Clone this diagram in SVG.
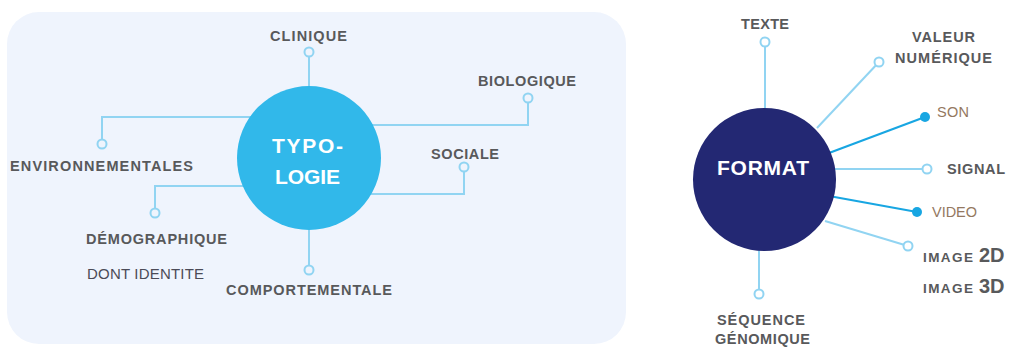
<svg xmlns="http://www.w3.org/2000/svg" width="1010" height="347" viewBox="0 0 1010 347">
<style>
.lbl{font-family:"Liberation Sans",Arial,sans-serif;font-weight:bold;font-size:14.5px;fill:#58595b;}
.reg{font-family:"Liberation Sans",Arial,sans-serif;font-size:15px;fill:#4b4b57;}
.col{font-family:"Liberation Sans",Arial,sans-serif;font-size:14.5px;fill:#94785f;}
.hub{font-family:"Liberation Sans",Arial,sans-serif;font-weight:bold;font-size:21px;fill:#ffffff;}
.big{font-size:20px;}
.lc{stroke:#91d4f2;stroke-width:2;fill:none;}
.dc{stroke:#18a6e2;stroke-width:2.2;fill:none;}
.od{stroke:#91d4f2;stroke-width:2;}
.fd{fill:#18a6e2;}
</style>
<rect x="7" y="12" width="619" height="332" rx="32" fill="#eff4fd"/>
<g id="connectors">
  <path class="lc" d="M309 90 V52"/>
  <path class="lc" d="M260 117 H102 V144"/>
  <path class="lc" d="M260 186 H155 V213"/>
  <path class="lc" d="M309 225 V270"/>
  <path class="lc" d="M360 125 H528 V98"/>
  <path class="lc" d="M360 194 H464 V167"/>
  <path class="lc" d="M765 110 V42"/>
  <path class="lc" d="M817 128 L879 62"/>
  <path class="dc" d="M829 153 L925 117"/>
  <path class="lc" d="M834 169 H927"/>
  <path class="dc" d="M829 196 L917 212"/>
  <path class="lc" d="M825 221 L908 246"/>
  <path class="lc" d="M759 250 V294"/>
  <circle class="od" cx="309" cy="52" r="4.5" fill="#eff4fd"/>
  <circle class="od" cx="102" cy="144" r="4.5" fill="#eff4fd"/>
  <circle class="od" cx="155" cy="213" r="4.5" fill="#eff4fd"/>
  <circle class="od" cx="309" cy="270" r="4.5" fill="#eff4fd"/>
  <circle class="od" cx="528" cy="98" r="4.5" fill="#eff4fd"/>
  <circle class="od" cx="464" cy="167" r="4.5" fill="#eff4fd"/>
  <circle class="od" cx="765" cy="42" r="4.5" fill="#ffffff"/>
  <circle class="od" cx="879" cy="62" r="4.5" fill="#ffffff"/>
  <circle class="fd" cx="925" cy="117" r="5"/>
  <circle class="od" cx="927" cy="169" r="4.5" fill="#ffffff"/>
  <circle class="fd" cx="917" cy="212" r="5"/>
  <circle class="od" cx="908" cy="246" r="4.5" fill="#ffffff"/>
  <circle class="od" cx="759" cy="294" r="4.5" fill="#ffffff"/>
</g>
<g id="typologie">
  <circle cx="309" cy="158" r="72" fill="#31b8ea"/>
  <text class="hub" x="272" y="153" textLength="71" lengthAdjust="spacing">TYPO-</text>
  <text class="hub" x="275" y="184" textLength="65" lengthAdjust="spacing">LOGIE</text>
</g>
<g id="format">
  <circle cx="764.5" cy="179.5" r="71.5" fill="#232873"/>
  <text class="hub" x="717" y="175" textLength="92" lengthAdjust="spacing">FORMAT</text>
</g>
<g id="clinique"><text class="lbl" x="270" y="41" textLength="77" lengthAdjust="spacing">CLINIQUE</text></g>
<g id="environnementales"><text class="lbl" x="10" y="171" textLength="183" lengthAdjust="spacing">ENVIRONNEMENTALES</text></g>
<g id="demographique">
  <text class="lbl" x="86" y="244" textLength="141" lengthAdjust="spacing">DÉMOGRAPHIQUE</text>
  <text class="reg" x="87" y="279" textLength="117" lengthAdjust="spacing">DONT IDENTITE</text>
</g>
<g id="comportementale"><text class="lbl" x="226" y="295" textLength="166" lengthAdjust="spacing">COMPORTEMENTALE</text></g>
<g id="biologique"><text class="lbl" x="478" y="86" textLength="98" lengthAdjust="spacing">BIOLOGIQUE</text></g>
<g id="sociale"><text class="lbl" x="431" y="159" textLength="68" lengthAdjust="spacing">SOCIALE</text></g>
<g id="texte"><text class="lbl" x="741" y="29" textLength="48" lengthAdjust="spacing">TEXTE</text></g>
<g id="valeur">
  <text class="lbl" x="912" y="42" textLength="63" lengthAdjust="spacing">VALEUR</text>
  <text class="lbl" x="895" y="63" textLength="97" lengthAdjust="spacing">NUMÉRIQUE</text>
</g>
<g id="son"><text class="col" x="937" y="117" textLength="32" lengthAdjust="spacing">SON</text></g>
<g id="signal"><text class="lbl" x="947" y="174" textLength="58" lengthAdjust="spacing">SIGNAL</text></g>
<g id="video"><text class="col" x="932" y="217" textLength="45" lengthAdjust="spacing">VIDEO</text></g>
<g id="image">
  <text class="lbl" x="923" y="262"><tspan font-size="13.5" textLength="50" lengthAdjust="spacing">IMAGE</tspan><tspan class="big" x="979">2D</tspan></text>
  <text class="lbl" x="923" y="293"><tspan font-size="13.5" textLength="50" lengthAdjust="spacing">IMAGE</tspan><tspan class="big" x="979">3D</tspan></text>
</g>
<g id="sequence">
  <text class="lbl" x="717" y="325" textLength="88" lengthAdjust="spacing">SÉQUENCE</text>
  <text class="lbl" x="715" y="344" textLength="95" lengthAdjust="spacing">GÉNOMIQUE</text>
</g>
</svg>
